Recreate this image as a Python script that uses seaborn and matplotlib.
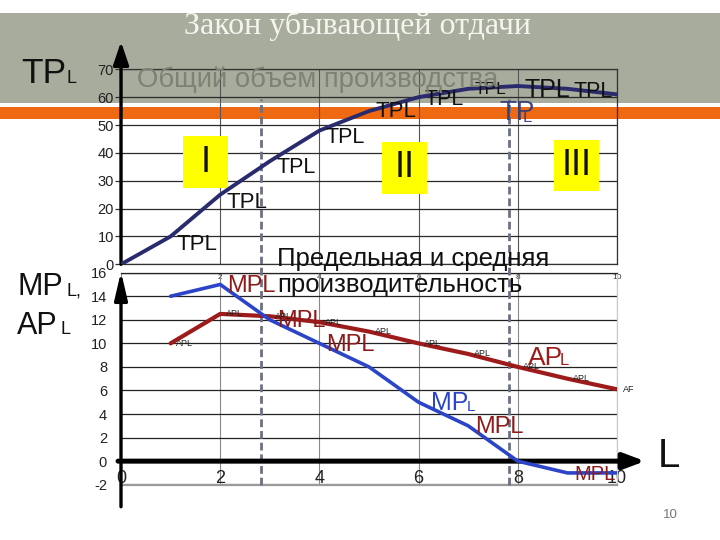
import matplotlib
matplotlib.use("Agg")
import matplotlib.pyplot as plt
import seaborn as sns
from matplotlib.patches import Rectangle

sns.set_theme(style="white")
plt.rcParams["font.family"] = ["Liberation Sans", "DejaVu Sans"]
plt.rcParams["axes.unicode_minus"] = False

# ---------------- data ----------------
labor_tp = [0, 1, 2, 3, 4, 5, 6, 7, 8, 9, 10]
total_product = [0, 10, 25, 37, 48, 55, 60, 63, 64, 63, 61]
labor_mp_ap = [1, 2, 3, 4, 5, 6, 7, 8, 9, 10]
marginal_product = [14, 15, 12, 10, 8, 5, 3, 0, -1, -1]
average_product = [10, 12.5, 12.3, 11.8, 11, 10, 9.1, 8, 7, 6.1]
tp_point_labels = ["TPL"] * 9          # at L = 1..9
mp_label_points = [2, 3, 4, 7, 9]
ap_point_labels = ["APL"] * 9 + ["AF"]  # at L = 1..10
stage_bounds = [2.82, 7.83]
stage_names = ["I", "II", "III"]
stage_centers_x = [1.70, 5.72, 9.18]
stage_centers_y = [36.7, 34.6, 35.5]
top_yticks = [0, 10, 20, 30, 40, 50, 60, 70]
top_xticks = [2, 4, 6, 8, 10]
low_yticks = [-2, 0, 2, 4, 6, 8, 10, 12, 14, 16]
low_xticks = [0, 2, 4, 6, 8, 10]

# ---------------- helpers ----------------
W, H = 720, 540
def fx(x):
    return x / W
def fy(y):
    return 1 - y / H

fig = plt.figure(figsize=(7.2, 5.4), dpi=100)
fig.patch.set_facecolor("white")

# slide background bands
fig.add_artist(Rectangle((0, fy(102.7)), 1, 90 / H, transform=fig.transFigure,
                         facecolor="#a7ac9c", edgecolor="none", zorder=-5))
fig.add_artist(Rectangle((0, fy(119.3)), 1, 12 / H, transform=fig.transFigure,
                         facecolor="#ef6913", edgecolor="none", zorder=-5))

# ---------------- top chart: total product ----------------
ax1 = fig.add_axes([fx(121), fy(264.3), 496 / W, 195 / H])
ax1.set_facecolor("none")
ax1.set_axisbelow(True)
sns.lineplot(x=labor_tp, y=total_product, ax=ax1, color="#2a2a6e", linewidth=2.8, zorder=5)
ax1.set_xlim(0, 10)
ax1.set_ylim(0, 70)
ax1.set_xticks(top_xticks)
ax1.set_xticklabels([str(t) for t in top_xticks])
ax1.set_yticks(top_yticks)
ax1.grid(True, axis="y", color="#2a2a2a", lw=0.9)
ax1.grid(True, axis="x", color="#555555", lw=0.8)
ax1.tick_params(axis="y", left=True, length=4, width=0.9, color="#333333",
                labelsize=10.5, pad=1, labelcolor="#222222")
ax1.tick_params(axis="x", bottom=False, length=0, labelsize=6, pad=7, labelcolor="#333333")
for s in ax1.spines.values():
    s.set_color("#333333")
    s.set_linewidth(0.9)
ax1.set_xlabel("")
ax1.set_ylabel("")

# ---------------- lower chart: MP and AP ----------------
ax2 = fig.add_axes([fx(121), fy(484.7), 496 / W, 212 / H])
ax2.set_facecolor("none")
ax2.set_axisbelow(True)
sns.lineplot(x=labor_mp_ap, y=average_product, ax=ax2, color="#9e1b1b", linewidth=3, zorder=5)
sns.lineplot(x=labor_mp_ap, y=marginal_product, ax=ax2, color="#2c44c8", linewidth=2.6, zorder=6)
ax2.set_xlim(0, 10)
ax2.set_ylim(-2, 16)
ax2.set_yticks(low_yticks)
ax2.set_xticks(low_xticks)
ax2.grid(True, axis="y", color="#222222", lw=0.9)
ax2.grid(True, axis="x", color="#8a8a8a", lw=0.8)
ax2.get_ygridlines()[0].set_color("#9a9a9a")
ax2.get_ygridlines()[0].set_linewidth(1.6)
ax2.tick_params(axis="y", left=False, labelsize=10.5, pad=4, labelcolor="#222222")
ax2.tick_params(axis="x", bottom=False, length=0, labelsize=13, pad=-10.5, labelcolor="#222222")
ax2.spines["left"].set_visible(False)
ax2.spines["bottom"].set_color("#9a9a9a")
ax2.spines["bottom"].set_linewidth(1.6)
ax2.spines["top"].set_color("#222222")
ax2.spines["top"].set_linewidth(0.9)
ax2.spines["right"].set_color("#cccccc")
ax2.spines["right"].set_linewidth(0.9)
ax2.set_xlabel("")
ax2.set_ylabel("")

# stage boundaries (dashed)
for b in stage_bounds:
    ax1.axvline(b, ymin=0, ymax=(264.3 - 99) / 195, color="#6c7083", lw=2,
                ls=(0, (2.8, 1.4)), zorder=3)
    ax2.axvline(b, ymin=0, ymax=1 + (272.7 - 264.3) / 212, color="#6c7083", lw=2,
                ls=(0, (2.8, 1.4)), zorder=3, clip_on=False)

# stage boxes
for name, cx, cy in zip(stage_names, stage_centers_x, stage_centers_y):
    ax1.add_patch(Rectangle((cx - 0.45, cy - 9.2), 0.9, 18.4, facecolor="#ffff00",
                            edgecolor="none", zorder=4))
    ax1.text(cx, cy, name, ha="center", va="center", fontsize=26, color="#111111", zorder=6)

# TPL point labels
tp_dy = [-5.5, -5.5, -4.5, -5, 0, -1.5, -0.5, -3, -2]
tp_fs = [16, 16, 15.5, 15.5, 16, 15.5, 12.5, 18, 15.5]
for i, lab in enumerate(tp_point_labels):
    x = labor_tp[i + 1]
    ax1.annotate(lab, xy=(x, total_product[i + 1]), xytext=(4.5, tp_dy[i]),
                 textcoords="offset points", ha="left", va="center",
                 fontsize=tp_fs[i], color="#111111", zorder=7, annotation_clip=False)

# MPL labels (red)
for x in mp_label_points:
    yv = marginal_product[labor_mp_ap.index(x)]
    ax2.annotate("MPL", xy=(x, yv), xytext=(5, -1), textcoords="offset points",
                 ha="left", va="center", fontsize=17 if x != 9 else 14.5,
                 color="#8e1b1b", zorder=7, annotation_clip=False)

# small APL labels
for x, yv, lab in zip(labor_mp_ap, average_product, ap_point_labels):
    ax2.annotate(lab, xy=(x, yv), xytext=(4, 0), textcoords="offset points",
                 ha="left", va="center", fontsize=6.5, color="#222222", zorder=7,
                 annotation_clip=False)

# axis arrows
ax1.annotate("", xy=(0, 1.1415), xycoords="axes fraction", xytext=(0, 0),
             textcoords="axes fraction",
             arrowprops=dict(arrowstyle="-|>,head_length=0.5,head_width=0.17",
                             mutation_scale=28, lw=2.4, color="black",
                             shrinkA=0, shrinkB=0), annotation_clip=False)
ax2.annotate("", xy=(0, 1.0047), xycoords="axes fraction", xytext=(0, -0.104),
             textcoords="axes fraction",
             arrowprops=dict(arrowstyle="-|>,head_length=0.6,head_width=0.14",
                             mutation_scale=28, lw=2.4, color="black",
                             shrinkA=0, shrinkB=0), annotation_clip=False)
ax2.annotate("", xy=(1.0565, 0), xycoords=("axes fraction", "data"), xytext=(-0.006, 0),
             textcoords=("axes fraction", "data"),
             arrowprops=dict(arrowstyle="-|>,head_length=0.4,head_width=0.15",
                             mutation_scale=32, lw=3.6, color="black",
                             shrinkA=0, shrinkB=0), annotation_clip=False)

# ---------------- slide texts ----------------
fig.text(fx(358), fy(34.3), "Закон убывающей отдачи", family="Liberation Serif",
         fontsize=23, color="#f5f5ef", ha="center", va="baseline")
fig.text(fx(137), fy(87), "Общий объем производства", fontsize=19.8,
         color="#7d8275", ha="left", va="baseline")
fig.text(fx(277), fy(266), "Предельная и средняя", fontsize=18.5,
         color="#111111", ha="left", va="baseline", zorder=8)
fig.text(fx(277), fy(292), "производительность", fontsize=18.5,
         color="#111111", ha="left", va="baseline", zorder=8)

# left axis titles
fig.text(fx(21), fy(83.3), "TP", fontsize=25.5, color="#111111", ha="left", va="baseline")
fig.text(fx(67), fy(83.3), "L", fontsize=13, color="#111111", ha="left", va="baseline")
fig.text(fx(17), fy(295), "MP", fontsize=22, color="#111111", ha="left", va="baseline")
fig.text(fx(66), fy(295), "L,", fontsize=13, color="#111111", ha="left", va="baseline")
fig.text(fx(17), fy(334), "AP", fontsize=22, color="#111111", ha="left", va="baseline")
fig.text(fx(60), fy(334), "L", fontsize=13, color="#111111", ha="left", va="baseline")

# in-plot big labels
fig.text(fx(499), fy(120), "TP", fontsize=20, color="#2e3a78", alpha=0.9,
         ha="left", va="baseline", zorder=8)
fig.text(fx(523), fy(122), "L", fontsize=12, color="#2e3a78", alpha=0.9,
         ha="left", va="baseline", zorder=8)
fig.text(fx(431), fy(410), "MP", fontsize=18, color="#2c44c8", ha="left",
         va="baseline", zorder=8)
fig.text(fx(467), fy(411), "L", fontsize=11, color="#2c44c8", ha="left",
         va="baseline", zorder=8)
fig.text(fx(528), fy(365), "AP", fontsize=19, color="#9e1b1b", ha="left",
         va="baseline", zorder=8)
fig.text(fx(560), fy(365), "L", fontsize=12, color="#9e1b1b", ha="left",
         va="baseline", zorder=8)

# L axis label and page number
fig.text(fx(658), fy(467), "L", fontsize=29, color="#111111", ha="left", va="baseline")
fig.text(fx(670), fy(515), "10", fontsize=9.5, color="#777777", ha="center", va="center")

fig.savefig("out.png", dpi=100)
